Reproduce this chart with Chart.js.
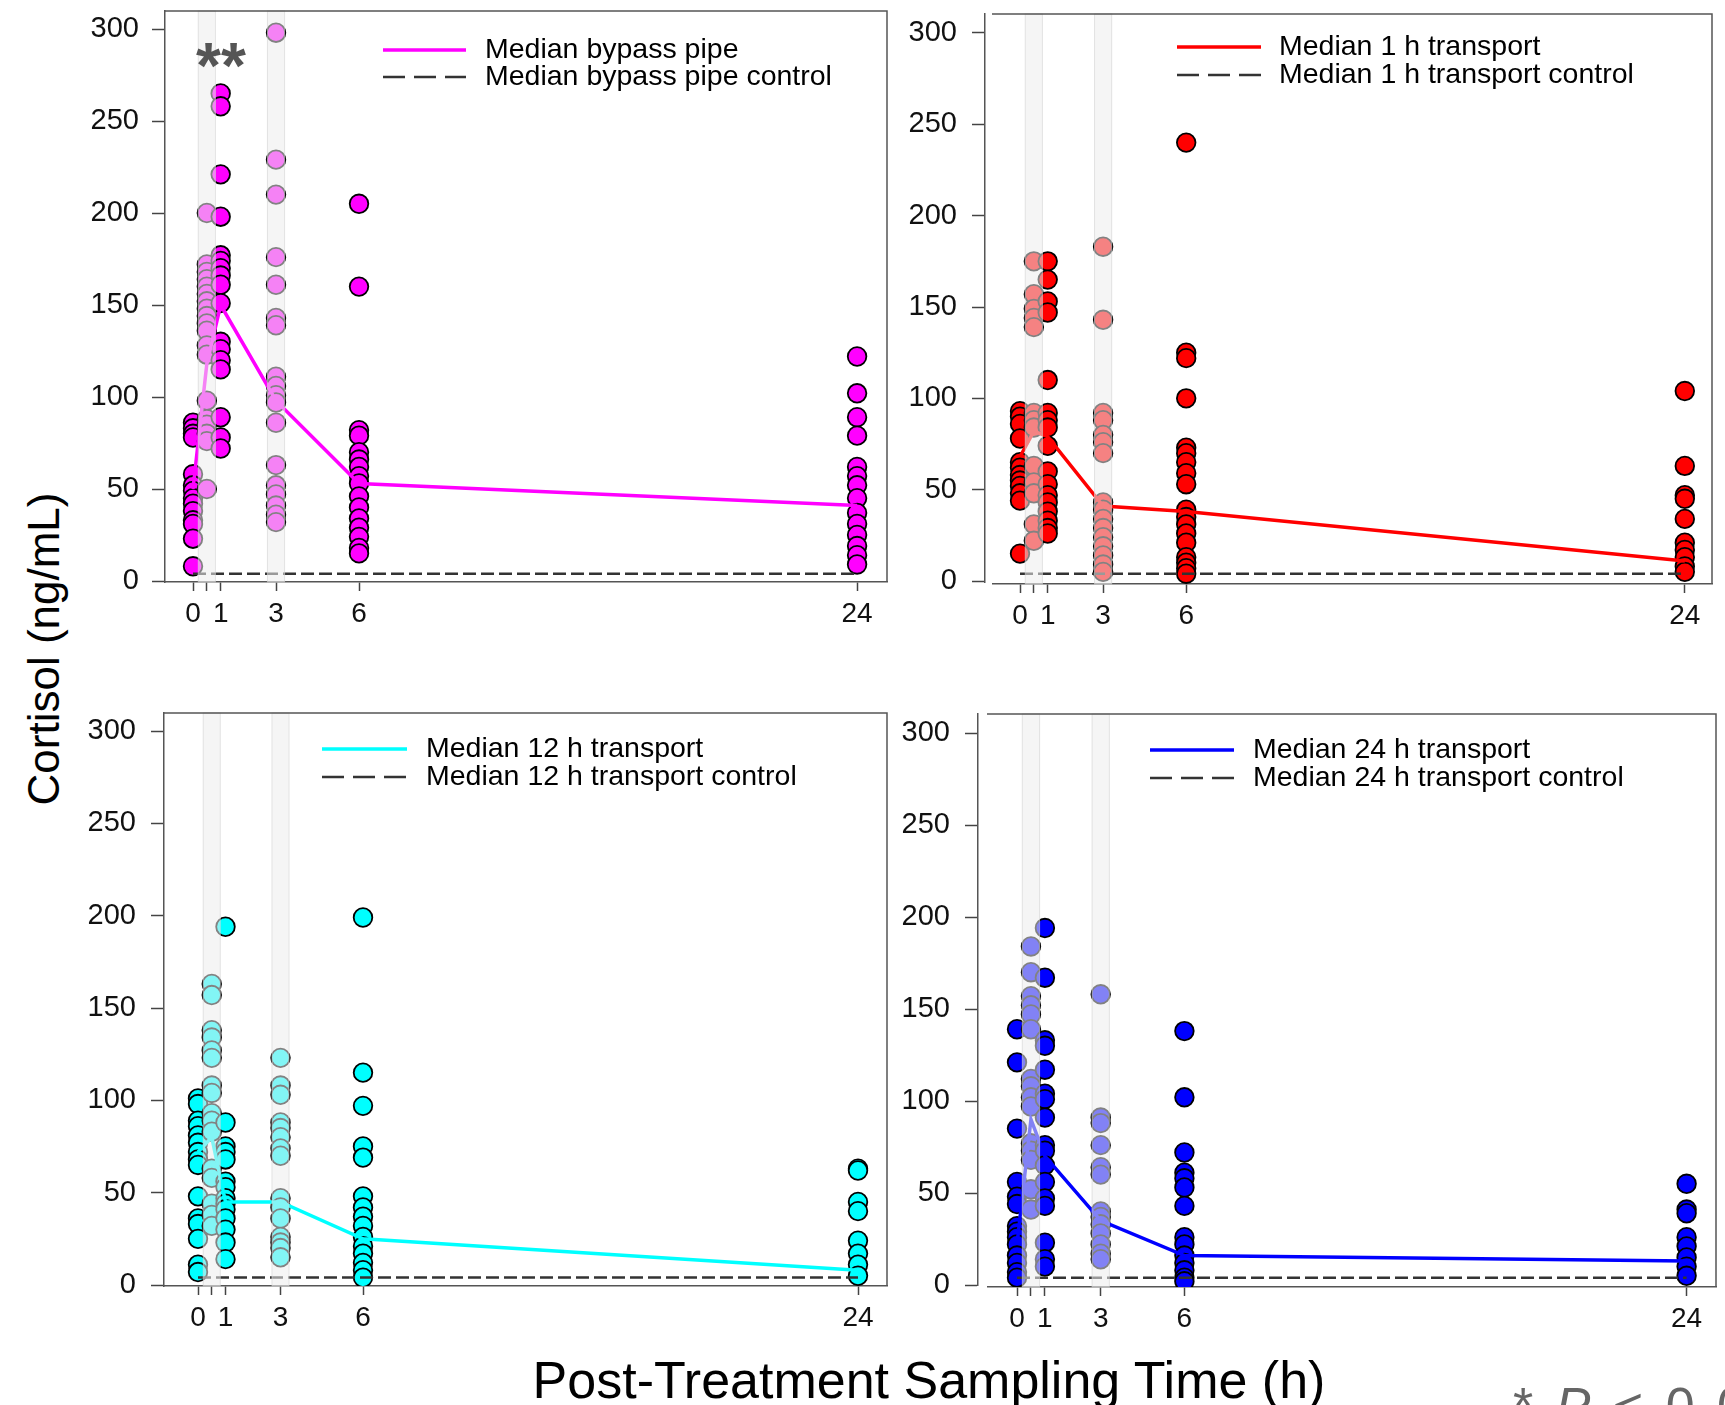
<!DOCTYPE html>
<html>
<head>
<meta charset="utf-8">
<script src="https://cdn.jsdelivr.net/npm/chart.js@4.4.1/dist/chart.umd.min.js"></script>
<style>
  html, body { margin: 0; padding: 0; background: #fff; }
  body { width: 1725px; height: 1405px; overflow: hidden; position: relative;
         font-family: "Liberation Sans", Arial, sans-serif; }
  canvas { position: absolute; }
  .txt { position: absolute; white-space: nowrap; color: #000; }
  #ytitle { font-size: 44px; line-height: 44px; left: 44px; top: 649px;
            transform: translate(-50%, -50%) rotate(-90deg); }
  #xtitle { font-size: 52px; line-height: 52px; left: 929px; top: 1354px;
            transform: translateX(-50%); }
  #pnote { font-size: 52px; line-height: 52px; left: 1513px; top: 1380px; color: #666; letter-spacing: 4px; }
  #stars { font-size: 64px; line-height: 64px; left: 196px; top: 34px; color: #555; font-weight: bold; }
</style>
</head>
<body>
<canvas id="c0"></canvas>
<canvas id="c1"></canvas>
<canvas id="c2"></canvas>
<canvas id="c3"></canvas>
<div class="txt" id="ytitle">Cortisol (ng/mL)</div>
<div class="txt" id="xtitle">Post-Treatment Sampling Time (h)</div>
<div class="txt" id="pnote">* <i>P</i> &lt; 0.05</div>
<div class="txt" id="stars">**</div>
<script>
// sampling times (h) and axis ticks
const times = [0, 0.5, 1, 3, 6, 24];
const xTickValues = [0, 0.5, 1, 3, 6, 24];
const xTickLabels = ['0', '', '1', '3', '6', '24'];
const yTickValues = [0, 50, 100, 150, 200, 250, 300];
const bandTimes = [0.5, 3];

const seriesNames = ['Median bypass pipe', 'Median 1 h transport', 'Median 12 h transport', 'Median 24 h transport'];
const controlNames = ['Median bypass pipe control', 'Median 1 h transport control',
                      'Median 12 h transport control', 'Median 24 h transport control'];
const seriesColors = ['#ff00ff', '#ff0000', '#00ffff', '#0000ff'];
const controlLevel = [4, 4, 4, 4];

// cortisol values (ng/mL), one list per sampling time
const bypassValues = [
  [86, 83, 80, 78, 58, 52, 49, 45, 42, 38, 33, 31, 23, 8],
  [200, 172, 168, 164, 160, 156, 152, 148, 144, 140, 136, 128, 123, 98, 88, 85, 80, 76, 50],
  [265, 258, 221, 198, 177, 174, 170, 166, 161, 151, 130, 126, 120, 115, 89, 78, 72],
  [298, 229, 210, 176, 161, 143, 139, 111, 106, 101, 97, 86, 63, 52, 47, 41, 36, 32],
  [205, 160, 82, 79, 70, 66, 62, 57, 53, 46, 40, 34, 29, 24, 18, 15],
  [122, 102, 89, 79, 62, 57, 52, 45, 37, 31, 25, 19, 14, 9]
];
const transport1hValues = [
  [93, 90, 86, 78, 65, 62, 58, 55, 52, 48, 44, 15],
  [175, 157, 149, 144, 139, 92, 88, 84, 63, 54, 48, 31, 22],
  [175, 165, 153, 147, 110, 92, 88, 84, 74, 60, 53, 47, 43, 38, 33, 29, 26],
  [183, 143, 92, 88, 80, 76, 70, 43, 39, 34, 29, 24, 19, 14, 9, 5],
  [240, 125, 122, 100, 73, 70, 65, 59, 53, 39, 35, 31, 26, 21, 13, 10, 7, 4],
  [104, 63, 47, 45, 34, 21, 17, 13, 8, 5]
];
const transport12hValues = [
  [101, 98, 89, 86, 81, 77, 72, 68, 65, 48, 36, 33, 25, 11, 7],
  [163, 157, 138, 134, 127, 123, 108, 104, 93, 89, 83, 63, 58, 44, 38, 32],
  [194, 88, 75, 72, 68, 56, 53, 47, 44, 41, 36, 30, 23, 14],
  [123, 108, 103, 88, 85, 80, 74, 70, 47, 42, 36, 26, 23, 20, 15],
  [199, 115, 97, 75, 69, 48, 42, 37, 32, 26, 21, 17, 12, 8, 4],
  [63, 62, 45, 40, 24, 17, 11, 5]
];
const transport24hValues = [
  [139, 121, 85, 56, 48, 44, 32, 29, 26, 22, 16, 12, 7, 4],
  [184, 170, 157, 152, 147, 139, 112, 108, 102, 97, 77, 73, 68, 52, 41],
  [194, 167, 133, 130, 117, 104, 101, 91, 76, 73, 65, 56, 47, 43, 23, 14, 10],
  [158, 91, 88, 76, 64, 60, 40, 37, 33, 28, 22, 17, 14],
  [138, 102, 72, 61, 58, 53, 43, 26, 22, 16, 12, 8, 4, 2],
  [55, 41, 39, 26, 21, 15, 10, 5]
];

const bypassMedian = [50, 118, 150, 98, 53, 41];
const transport1hMedian = [68, 82, 79, 41, 38, 11];
const transport12hMedian = [72, 80, 45, 45, 25, 8];
const transport24hMedian = [22, 90, 70, 35, 16, 13];

const panelValues = [bypassValues, transport1hValues, transport12hValues, transport24hValues];
const panelMedians = [bypassMedian, transport1hMedian, transport12hMedian, transport24hMedian];

// page geometry of each panel (pixels); axisGap = space between y axis line and frame
const panelBoxes = [
  { left: 165, top: 11, right: 887, bottom: 582, x0: 193, ppx: 27.67, y0: 581, y300: 29, axisGap: 0,
    labelRight: 139, legLine: [383, 466], legText: 485, legY: [50, 77] },
  { left: 985, top: 14, right: 1712, bottom: 584, x0: 1020, ppx: 27.7, y0: 581, y300: 33, axisGap: 7,
    labelRight: 957, legLine: [1177, 1261], legText: 1279, legY: [47, 75] },
  { left: 164, top: 713, right: 887, bottom: 1286, x0: 198, ppx: 27.5, y0: 1285, y300: 731, axisGap: 0,
    labelRight: 136, legLine: [322, 407], legText: 426, legY: [749, 777] },
  { left: 978, top: 714, right: 1716, bottom: 1287, x0: 1017, ppx: 27.9, y0: 1285, y300: 733, axisGap: 9,
    labelRight: 950, legLine: [1150, 1234], legText: 1253, legY: [750, 778] }
];

const Y_W = 80, X_H = 50, PAD = 4, TICK_Y = 13, TICK_X = 9;
const FONT = '"Liberation Sans", Arial, sans-serif';

function makeDecor(i, ox, oy) {
  const g = panelBoxes[i];
  return {
    id: 'decor' + i,
    afterDatasetsDraw(chart) {
      const { ctx, chartArea: a, scales: { x } } = chart;
      ctx.save();
      // grey sampling bands drawn over the points
      bandTimes.forEach(t => {
        const cx = x.getPixelForValue(t);
        const hw = x.getPixelForValue(t + 0.31) - cx;
        ctx.fillStyle = 'rgba(236,236,236,0.55)';
        ctx.fillRect(cx - hw, a.top, hw * 2, a.bottom - a.top);
        ctx.strokeStyle = 'rgba(210,210,210,0.6)';
        ctx.lineWidth = 1;
        ctx.strokeRect(cx - hw, a.top, hw * 2, a.bottom - a.top);
      });
      // top and right frame, starting a little right of the y axis when offset
      if (g.axisGap) {
        ctx.fillStyle = '#fff';
        ctx.fillRect(a.left - 1, a.bottom - 1, g.axisGap + 1, 3);
      }
      ctx.strokeStyle = '#555';
      ctx.lineWidth = 1.5;
      ctx.beginPath();
      ctx.moveTo(a.left + g.axisGap, a.top);
      ctx.lineTo(a.right, a.top);
      ctx.lineTo(a.right, a.bottom);
      ctx.stroke();
      // legend
      const l0 = g.legLine[0] - ox, l1 = g.legLine[1] - ox;
      const y1 = g.legY[0] - oy, y2 = g.legY[1] - oy;
      ctx.strokeStyle = seriesColors[i];
      ctx.lineWidth = 3.5;
      ctx.beginPath(); ctx.moveTo(l0, y1); ctx.lineTo(l1, y1); ctx.stroke();
      ctx.strokeStyle = '#333';
      ctx.lineWidth = 2.5;
      ctx.setLineDash([22, 9]);
      ctx.beginPath(); ctx.moveTo(l0, y2); ctx.lineTo(l1, y2); ctx.stroke();
      ctx.setLineDash([]);
      ctx.fillStyle = '#000';
      ctx.font = '28.5px ' + FONT;
      ctx.textBaseline = 'middle';
      ctx.fillText(seriesNames[i], g.legText - ox, y1);
      ctx.fillText(controlNames[i], g.legText - ox, y2);
      ctx.restore();
    }
  };
}

function makePanel(i) {
  const g = panelBoxes[i];
  const canvas = document.getElementById('c' + i);
  const cw = Math.round(g.right - g.left + Y_W + PAD);
  const ch = Math.round(g.bottom - g.top + X_H + PAD);
  const ox = g.left - Y_W, oy = g.top - PAD;
  canvas.width = cw; canvas.height = ch;
  canvas.style.width = cw + 'px'; canvas.style.height = ch + 'px';
  canvas.style.left = ox + 'px'; canvas.style.top = oy + 'px';

  const ppy = (g.y0 - g.y300) / 300;
  const points = [];
  times.forEach((t, k) => panelValues[i][k].forEach(v => points.push({ x: t, y: v })));

  new Chart(canvas.getContext('2d'), {
    type: 'scatter',
    data: {
      datasets: [
        {
          type: 'line', label: controlNames[i], order: 0,
          data: [{ x: 0, y: controlLevel[i] }, { x: 24, y: controlLevel[i] }],
          borderColor: '#333', borderWidth: 2.5, borderDash: [13, 5], pointRadius: 0
        },
        {
          type: 'line', label: seriesNames[i], order: 1,
          data: times.map((t, k) => ({ x: t, y: panelMedians[i][k] })),
          borderColor: seriesColors[i], borderWidth: 3.5, pointRadius: 0, tension: 0
        },
        {
          label: 'samples', order: 2,
          data: points,
          backgroundColor: seriesColors[i], borderColor: '#000', borderWidth: 1.8,
          pointRadius: 9.3
        }
      ]
    },
    options: {
      responsive: false,
      animation: false,
      devicePixelRatio: 1,
      layout: { autoPadding: false, padding: { left: 0, right: PAD, top: PAD, bottom: 0 } },
      plugins: { legend: { display: false }, tooltip: { enabled: false } },
      scales: {
        x: {
          type: 'linear',
          min: (g.left - g.x0) / g.ppx,
          max: (g.right - g.x0) / g.ppx,
          afterFit: s => { s.height = X_H; s.paddingLeft = 0; s.paddingRight = 0; },
          afterBuildTicks: s => { s.ticks = xTickValues.map(v => ({ value: v })); },
          ticks: {
            autoSkip: false, maxRotation: 0, padding: 6, color: '#111',
            font: { size: 28, family: FONT },
            callback: (v, idx) => xTickLabels[idx]
          },
          grid: { drawOnChartArea: false, tickLength: TICK_X, tickColor: '#444', tickWidth: 1.5 },
          border: { color: '#555', width: 1.5 }
        },
        y: {
          type: 'linear',
          min: -(g.bottom - g.y0) / ppy,
          max: (g.y0 - g.top) / ppy,
          afterFit: s => { s.width = Y_W; s.paddingTop = 0; s.paddingBottom = 0; },
          afterBuildTicks: s => { s.ticks = yTickValues.map(v => ({ value: v })); },
          ticks: {
            autoSkip: false, padding: g.left - g.labelRight - TICK_Y, color: '#111',
            font: { size: 29, family: FONT }
          },
          grid: { drawOnChartArea: false, tickLength: TICK_Y, tickColor: '#444', tickWidth: 1.5 },
          border: { color: '#555', width: 1.5 }
        }
      }
    },
    plugins: [makeDecor(i, ox, oy)]
  });
}

[0, 1, 2, 3].forEach(makePanel);
</script>
</body>
</html>
